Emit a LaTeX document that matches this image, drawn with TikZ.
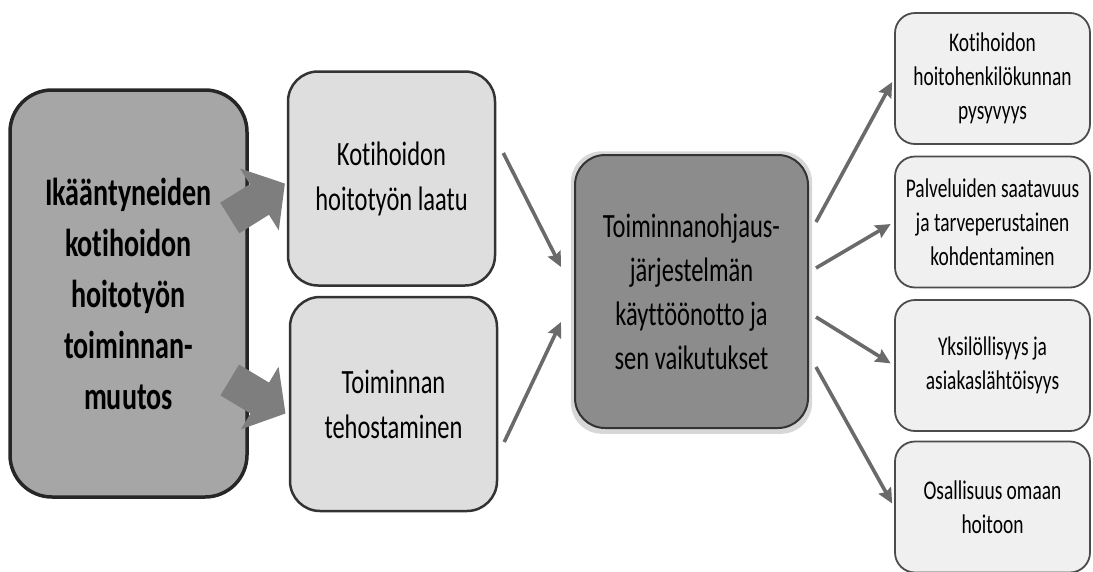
\documentclass[tikz,border=0pt]{standalone}
\usepackage{fontspec}
\setmainfont{Carlito}[FakeStretch=0.72, Ligatures={NoCommon}]
\usepackage{xcolor}
\usetikzlibrary{arrows.meta,shadows}

\definecolor{changegray}{HTML}{A6A6A6}
\definecolor{midgray}{HTML}{DEDEDE}
\definecolor{hubgray}{HTML}{8C8C8C}
\definecolor{outgray}{HTML}{F0F0F0}
\definecolor{linegray}{HTML}{6A6A6A}
\definecolor{fatgray}{HTML}{7E7E7E}

\tikzset{
  pics/fatarrow/.style={code={
    \fill[fatgray] (0,-18) -- (35,-18) -- (35,-36.5) -- (65,0) -- (35,36.5) -- (35,18) -- (0,18) -- cycle;
  }},
  thinarrow/.style={draw=linegray, line width=3.6pt, -{Stealth[length=15pt,width=14pt,inset=2pt]}}
}

\begin{document}
\begin{tikzpicture}[x=1pt,y=-1pt,
    bigbox/.style={draw=black!85, line width=3.5pt, fill=changegray, rounded corners=42pt,
      minimum width=237pt, minimum height=407pt, align=center, inner sep=0pt,
      font=\fontsize{39}{51}\selectfont\bfseries},
    midbox/.style={draw=black!80, line width=2.5pt, fill=midgray, rounded corners=30pt,
      minimum width=207pt, minimum height=214pt, align=center, inner sep=0pt,
      font=\fontsize{34}{45}\selectfont},
    hubbox/.style={draw=black!80, line width=2pt, fill=hubgray, rounded corners=30pt,
      minimum width=233pt, minimum height=273pt, align=center, inner sep=0pt,
      font=\fontsize{34}{44}\selectfont,
      drop shadow={shadow xshift=0pt, shadow yshift=-1pt, shadow scale=1.035, fill=gray!45, opacity=.7}},
    outbox/.style={draw=black!70, line width=1.8pt, fill=outgray, rounded corners=20pt,
      minimum width=195pt, minimum height=131pt, align=center, inner sep=0pt,
      font=\fontsize{27}{34}\selectfont}]
  \useasboundingbox (0,0) rectangle (1093,571);

  % Starting point
  \node[bigbox] (change) at (128.5,293.5) {Ikääntyneiden\\kotihoidon\\hoitotyön\\toiminnan-\\muutos};

  % Two drivers
  \node[midbox] (quality) at (391.5,178.5) {Kotihoidon\\hoitotyön laatu};
  \node[midbox] (effic) at (393.5,404) {Toiminnan\\tehostaminen};
  \pic[rotate=32] at ([shift={(-19,-75.5)}]change.east) {fatarrow};
  \pic[rotate=-31] at ([shift={(-19,86.5)}]change.east) {fatarrow};

  % Management system
  \node[hubbox] (hub) at (691.5,291.5) {Toiminnanohjaus-\\järjestelmän\\käyttöönotto ja\\sen vaikutukset};
  \draw[thinarrow] ([shift={(7,-25.5)}]quality.east) -- ([shift={(-13,-24.5)}]hub.west);
  \draw[thinarrow] ([shift={(6,38)}]effic.east) -- ([shift={(-13,30.5)}]hub.west);

  % Effects
  \node[outbox] (out1) at (992.5,78.5) {Kotihoidon\\hoitohenkilökunnan\\pysyvyys};
  \node[outbox] (out2) at (992.5,222) {Palveluiden saatavuus\\ja tarveperustainen\\kohdentaminen};
  \node[outbox] (out3) at (992.5,365.5) {Yksilöllisyys ja\\asiakaslähtöisyys};
  \node[outbox] (out4) at (992.5,507) {Osallisuus omaan\\hoitoon};
  \draw[thinarrow, shorten >=4pt] ([shift={(7,-69.5)}]hub.east) -- (out1.west);
  \draw[thinarrow, shorten >=4pt] ([shift={(7,-23.5)}]hub.east) -- (out2.west);
  \draw[thinarrow, shorten >=4pt] ([shift={(7,25.5)}]hub.east) -- (out3.west);
  \draw[thinarrow, shorten >=4pt] ([shift={(7,75.5)}]hub.east) -- (out4.west);
\end{tikzpicture}
\end{document}
